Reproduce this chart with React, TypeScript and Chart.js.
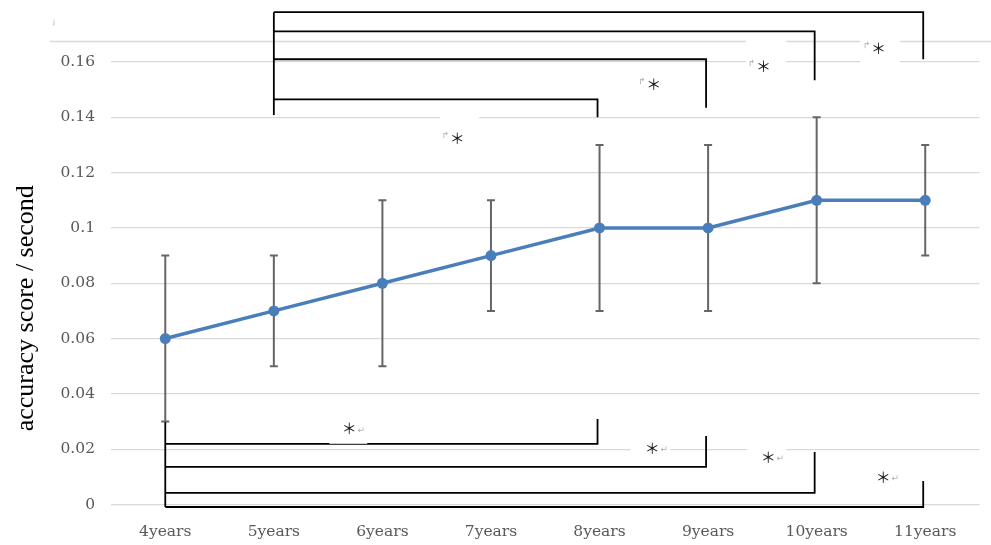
import React, { useEffect, useRef } from "react";
import { Chart, registerables } from "chart.js";

Chart.register(...registerables);

const categories = ["4years", "5years", "6years", "7years", "8years", "9years", "10years", "11years"];
const means = [0.06, 0.07, 0.08, 0.09, 0.1, 0.1, 0.11, 0.11];
const errLow = [0.03, 0.05, 0.05, 0.07, 0.07, 0.07, 0.08, 0.09];
const errHigh = [0.09, 0.09, 0.11, 0.11, 0.13, 0.13, 0.14, 0.13];
const yTicks = [0, 0.02, 0.04, 0.06, 0.08, 0.1, 0.12, 0.14, 0.16];
const yTitle = "accuracy score / second";

// significance brackets (category index, values in data units)
const topStart = { index: 1, from: 0.1408 };
const topBrackets = [
  { to: 4, level: 0.1465, end: 0.14 },
  { to: 5, level: 0.161, end: 0.1435 },
  { to: 6, level: 0.1711, end: 0.1534 },
  { to: 7, level: 0.178, end: 0.161 },
];
const bottomStart = { index: 0, from: 0.0298 };
const bottomBrackets = [
  { to: 4, level: 0.0219, end: 0.0309 },
  { to: 5, level: 0.0136, end: 0.0248 },
  { to: 6, level: 0.0042, end: 0.019 },
  { to: 7, level: -0.0009, end: 0.0085 },
];
const topNotes = [
  { x: 2.69, y: 0.1324 },
  { x: 4.5, y: 0.1519 },
  { x: 5.51, y: 0.1584 },
  { x: 6.57, y: 0.165 },
];
const bottomNotes = [
  { x: 1.695, y: 0.0276 },
  { x: 4.486, y: 0.0204 },
  { x: 5.554, y: 0.0172 },
  { x: 6.613, y: 0.0099 },
];
const noteBoxes = [
  { x0: 2.533, x1: 2.892, y0: 0.1436, y1: 0.1281 },
  { x0: 5.351, x1: 5.72, y0: 0.1693, y1: 0.1548 },
  { x0: 6.401, x1: 6.769, y0: 0.1693, y1: 0.1563 },
  { x0: 1.511, x1: 1.861, y0: 0.0323, y1: 0.02195 },
  { x0: 4.283, x1: 4.651, y0: 0.024, y1: 0.0154 },
  { x0: 5.36, x1: 5.72, y0: 0.0233, y1: 0.0107 },
];
const extraRuleValue = 0.1675;
const starText = "＊";

const errorBarPlugin = {
  id: "errorBars",
  beforeDatasetsDraw(chart: any) {
    const { ctx, scales } = chart;
    const x = scales.x;
    const y = scales.y;
    ctx.save();
    ctx.strokeStyle = "#666666";
    ctx.lineWidth = 2;
    for (let i = 0; i < means.length; i++) {
      const px = x.getPixelForValue(i);
      const lo = y.getPixelForValue(errLow[i]);
      const hi = y.getPixelForValue(errHigh[i]);
      ctx.beginPath();
      ctx.moveTo(px, lo);
      ctx.lineTo(px, hi);
      ctx.moveTo(px - 4, lo);
      ctx.lineTo(px + 4, lo);
      ctx.moveTo(px - 4, hi);
      ctx.lineTo(px + 4, hi);
      ctx.stroke();
    }
    ctx.restore();
  },
};

const annotationPlugin = {
  id: "sigAnnotations",
  afterDatasetsDraw(chart: any) {
    const { ctx, scales, width } = chart;
    const x = scales.x;
    const y = scales.y;
    ctx.save();
    // extra light rule
    ctx.strokeStyle = "#d9d9d9";
    ctx.lineWidth = 1.3;
    const ry = Math.round(y.getPixelForValue(extraRuleValue)) + 0.5;
    ctx.beginPath();
    ctx.moveTo(x.left - 61, ry);
    ctx.lineTo(width, ry);
    ctx.stroke();

    // brackets
    ctx.strokeStyle = "#000000";
    ctx.lineWidth = 1.8;
    const drawSet = (start: any, list: any[], isTop: boolean) => {
      const sx = x.getPixelForValue(start.index);
      const levels = list.map((b) => b.level);
      const extreme = isTop ? Math.max(...levels) : Math.min(...levels);
      ctx.beginPath();
      ctx.moveTo(sx, y.getPixelForValue(start.from));
      ctx.lineTo(sx, y.getPixelForValue(extreme));
      ctx.stroke();
      list.forEach((b) => {
        const ex = x.getPixelForValue(b.to) - 2;
        const ly = y.getPixelForValue(b.level);
        ctx.beginPath();
        ctx.moveTo(sx, ly);
        ctx.lineTo(ex, ly);
        ctx.lineTo(ex, y.getPixelForValue(b.end));
        ctx.stroke();
      });
    };
    drawSet(topStart, topBrackets, true);
    drawSet(bottomStart, bottomBrackets, false);

    // white text boxes
    ctx.fillStyle = "#ffffff";
    noteBoxes.forEach((b) => {
      const x0 = x.getPixelForValue(b.x0);
      const x1 = x.getPixelForValue(b.x1);
      const y0 = y.getPixelForValue(b.y0);
      const y1 = y.getPixelForValue(b.y1);
      ctx.fillRect(x0, y0, x1 - x0, y1 - y0);
    });

    // notes
    ctx.textAlign = "center";
    ctx.textBaseline = "middle";
    const drawStar = (px: number, py: number) => {
      ctx.fillStyle = "#1a1a1a";
      ctx.font = "15px 'Noto Sans CJK JP'";
      ctx.fillText(starText, px, py);
    };
    topNotes.forEach((n) => {
      const px = x.getPixelForValue(n.x);
      const py = y.getPixelForValue(n.y);
      drawStar(px, py);
      ctx.fillStyle = "#b0b0b0";
      ctx.font = "9px 'DejaVu Sans'";
      ctx.fillText("↱", px - 12, py - 3);
    });
    bottomNotes.forEach((n) => {
      const px = x.getPixelForValue(n.x);
      const py = y.getPixelForValue(n.y);
      drawStar(px, py);
      ctx.fillStyle = "#b0b0b0";
      ctx.font = "9px 'DejaVu Sans'";
      ctx.fillText("↵", px + 12, py + 2);
    });
    ctx.restore();
  },
  afterDraw(chart: any) {
    const { ctx, scales } = chart;
    const y = scales.y;
    ctx.save();
    ctx.fillStyle = "#000000";
    ctx.font = "26px 'Liberation Serif'";
    ctx.textAlign = "center";
    ctx.textBaseline = "middle";
    const cy = (y.top + y.bottom) / 2 + 25;
    ctx.translate(26, cy);
    ctx.rotate(-Math.PI / 2);
    ctx.fillText(yTitle, 0, 0);
    ctx.restore();
    ctx.save();
    ctx.fillStyle = "#9a9a9a";
    ctx.font = "7px 'DejaVu Sans'";
    ctx.fillText("ｊ", 50, 24);
    ctx.restore();
  },
};

export default function App() {
  const ref = useRef<HTMLCanvasElement>(null);
  useEffect(() => {
    if (!ref.current) return;
    const tickFont = { family: "'DejaVu Serif'", size: 15.5 };
    const chart = new Chart(ref.current, {
      type: "line",
      data: {
        labels: categories,
        datasets: [
          {
            data: means,
            borderColor: "#4a7ebb",
            backgroundColor: "#4a7ebb",
            borderWidth: 3.5,
            pointRadius: 5.5,
            pointBorderWidth: 0,
            pointBackgroundColor: "#4a7ebb",
            tension: 0,
          },
        ],
      },
      options: {
        responsive: false,
        animation: false,
        devicePixelRatio: 1,
        layout: { padding: { top: 62, right: 11.5, left: 0, bottom: 0 } },
        plugins: { legend: { display: false }, tooltip: { enabled: false } },
        scales: {
          x: {
            type: "category",
            offset: true,
            grid: { display: false },
            border: { display: false },
            ticks: { color: "#595959", font: tickFont, padding: 10, maxRotation: 0 },
            afterFit: (s: any) => {
              s.height = 40.5;
            },
          },
          y: {
            min: 0,
            max: 0.16,
            grid: { color: "#d9d9d9", lineWidth: 1.3, drawTicks: false },
            border: { display: false },
            ticks: {
              color: "#595959",
              font: tickFont,
              padding: 16,
              callback: (v: any) => String(Number(Number(v).toFixed(2))),
            },
            afterBuildTicks: (s: any) => {
              s.ticks = yTicks.map((v) => ({ value: v }));
            },
            afterFit: (s: any) => {
              s.width = 111;
            },
          },
        },
      },
      plugins: [errorBarPlugin, annotationPlugin],
    });
    return () => chart.destroy();
  }, []);
  return (
    <div style={{ position: "fixed", left: 0, top: 0, width: 991, height: 545, background: "#ffffff" }}>
      <canvas ref={ref} width={991} height={545} style={{ display: "block", width: 991, height: 545 }} />
    </div>
  );
}
